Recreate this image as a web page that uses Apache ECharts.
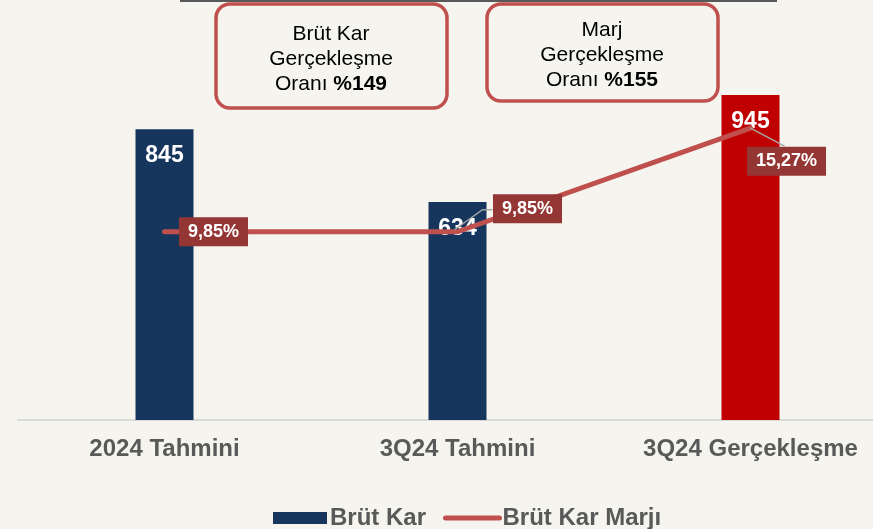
<!DOCTYPE html>
<html>
<head>
<meta charset="utf-8">
<script src="https://cdn.jsdelivr.net/npm/echarts@6/dist/echarts.min.js"></script>
<style>
	html, body { margin: 0; padding: 0; background: #f5f4ef; overflow: hidden; }
	/* grafik kutusu pencereden biraz geniş: son kategori sağdan taşıyor */
	#main { width: 897px; height: 529px; }
</style>
</head>
<body>
<div id="main"></div>
<script>
// kategoriler ve değerler
const categories = ['2024 Tahmini', '3Q24 Tahmini', '3Q24 Gerçekleşme']
const brutKar = [845, 634, 945]
const brutKarMarji = [9.85, 9.85, 15.27]
const marjLabels = ['9,85%', '9,85%', '15,27%']
const barColors = ['#17365d', '#17365d', '#c00000']

const FONT = '"Liberation Sans", Arial, sans-serif'

// etiket kaydırmaları (nokta -> kutu merkezi)
const labelShift = [[49, 0], [70, -23], [36, 33]]

const myChart = echarts.init(document.getElementById('main'))

const option = {
	backgroundColor: '#f5f4ef',
	textStyle: { fontFamily: FONT },
	grid: { left: 18, right: 0, top: 76, bottom: 109 },
	legend: {
		left: 268,
		top: 501,
		itemWidth: 54,
		itemHeight: 12,
		itemGap: 17,
		lineStyle: { width: 5, cap: 'round' },
		textStyle: { fontSize: 24, fontWeight: 'bold', color: '#595959', fontFamily: FONT, padding: [0, 0, 0, -2] },
		data: [
			{ name: 'Brüt Kar', icon: 'rect' },
			{ name: 'Brüt Kar Marjı', itemStyle: { opacity: 0 } }
		]
	},
	xAxis: {
		type: 'category',
		data: categories,
		axisLine: { lineStyle: { color: '#d9d9d9', width: 2 } },
		axisTick: { show: false },
		axisLabel: { margin: 17, fontSize: 24, fontWeight: 'bold', color: '#595959', fontFamily: FONT }
	},
	yAxis: [
		{ type: 'value', min: 0, max: 1000, show: false, splitLine: { show: false } },
		{ type: 'value', min: 0, max: 18, show: false, splitLine: { show: false } }
	],
	series: [
		{
			name: 'Brüt Kar',
			type: 'bar',
			barWidth: 58,
			itemStyle: { color: '#17365d' },
			data: brutKar.map((v, i) => ({ value: v, itemStyle: { color: barColors[i] } })),
			label: {
				show: true,
				position: 'insideTop',
				distance: 15,
				color: '#fff',
				fontSize: 23,
				fontWeight: 'bold',
				fontFamily: FONT
			},
			z: 2
		},
		{
			name: 'Brüt Kar Marjı',
			type: 'line',
			yAxisIndex: 1,
			data: brutKarMarji,
			symbol: 'circle',
			symbolSize: 1,
			showSymbol: true,
			lineStyle: { color: '#c0504d', width: 5, cap: 'round' },
			itemStyle: { color: '#c0504d' },
			z: 3,
			label: {
				show: true,
				position: 'inside',
				formatter: p => marjLabels[p.dataIndex],
				backgroundColor: '#943634',
				color: '#fff',
				fontSize: 18,
				fontWeight: 'bold',
				fontFamily: FONT,
				padding: [6, 9, 5, 9]
			},
			labelLayout: p => ({
				dx: labelShift[p.dataIndex][0],
				dy: labelShift[p.dataIndex][1]
			})
		}
	],
	graphic: [
		{
			id: 'topLine',
			type: 'line',
			shape: { x1: 180, y1: 1, x2: 777, y2: 1 },
			style: { stroke: '#595959', lineWidth: 2 }
		},
		{
			id: 'box1',
			type: 'rect',
			shape: { x: 216, y: 4, width: 231, height: 104, r: 14 },
			style: { fill: 'none', stroke: '#c0504d', lineWidth: 3.5 }
		},
		{
			id: 'text1',
			type: 'text',
			x: 331,
			y: 59,
			style: {
				text: 'Brüt Kar\nGerçekleşme\nOranı {b|%149}',
				align: 'center',
				verticalAlign: 'middle',
				fontSize: 21,
				lineHeight: 25,
				fontFamily: FONT,
				fill: '#000',
				rich: { b: { fontSize: 21, fontWeight: 'bold', fontFamily: FONT, lineHeight: 25 } }
			}
		},
		{
			id: 'box2',
			type: 'rect',
			shape: { x: 487, y: 4, width: 231, height: 97, r: 14 },
			style: { fill: 'none', stroke: '#c0504d', lineWidth: 3.5 }
		},
		{
			id: 'text2',
			type: 'text',
			x: 602,
			y: 55,
			style: {
				text: 'Marj\nGerçekleşme\nOranı {b|%155}',
				align: 'center',
				verticalAlign: 'middle',
				fontSize: 21,
				lineHeight: 25,
				fontFamily: FONT,
				fill: '#000',
				rich: { b: { fontSize: 21, fontWeight: 'bold', fontFamily: FONT, lineHeight: 25 } }
			}
		}
	]
}

myChart.setOption(option)

// etiket kılavuz çizgileri: noktaların piksel yeri eksenlerden alınıyor
const p1 = myChart.convertToPixel({ seriesIndex: 1 }, [1, brutKarMarji[1]])
const p2 = myChart.convertToPixel({ seriesIndex: 1 }, [2, brutKarMarji[2]])
myChart.setOption({
	graphic: [
		{
			id: 'guide1',
			type: 'polyline',
			z: 10,
			shape: { points: [[p1[0] - 3, p1[1] - 2], [p1[0] + 25, p1[1] - 22], [p1[0] + 35, p1[1] - 22]] },
			style: { stroke: '#a6a6a6', lineWidth: 1.5, fill: 'none' }
		},
		{
			id: 'guide2',
			type: 'polyline',
			z: 10,
			shape: { points: [[p2[0], p2[1]], [p2[0] + 34, p2[1] + 18]] },
			style: { stroke: '#a6a6a6', lineWidth: 1.5, fill: 'none' }
		}
	]
})
</script>
</body>
</html>
